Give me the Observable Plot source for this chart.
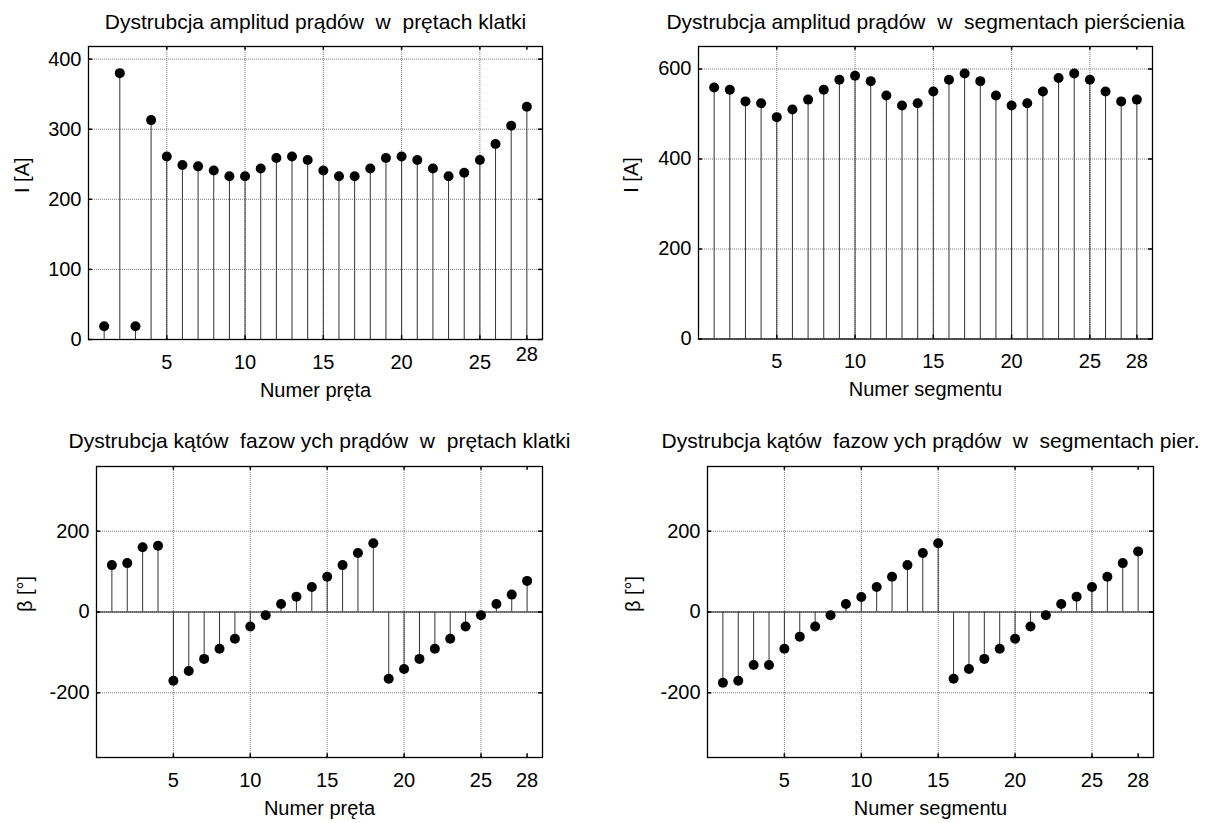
<!DOCTYPE html>
<html>
<head>
<meta charset="utf-8">
<script src="https://cdn.jsdelivr.net/npm/d3@7"></script>
<script src="https://cdn.jsdelivr.net/npm/@observablehq/plot@0.6"></script>
<style>
  body { margin: 0; background: #fff; }
  #wrap { position: relative; width: 1215px; height: 823px; background: #fff; overflow: hidden; }
  #wrap > svg { position: absolute; }
  svg text { white-space: pre; }
</style>
</head>
<body>
<div id="wrap"></div>
<script>
// ---- data ----
const numbers = [1,2,3,4,5,6,7,8,9,10,11,12,13,14,15,16,17,18,19,20,21,22,23,24,25,26,27,28];
const barAmplitude = [19,380,19,313,261,249,247,241,233,233,244,259,261,256,241,233,233,244,259,261,256,244,233,238,256,279,305,332];
const ringAmplitude = [559,554,528,524,493,510,532,554,576,585,573,541,519,524,550,576,590,573,541,519,524,550,580,590,576,550,528,532];
const barPhase = [116,121,160,164,-170,-146,-116,-91,-66,-36,-8,20,38,62,87,116,146,170,-165,-141,-116,-91,-66,-36,-8,20,43,77];
const ringPhase = [-175,-170,-131,-131,-91,-61,-36,-8,20,37,62,87,116,146,170,-165,-141,-116,-91,-66,-36,-8,20,38,62,87,121,150];

const xTicks = [5,10,15,20,25];
const xLastTick = [28];
const ampBarTicks = [0,100,200,300,400];
const ampRingTicks = [0,200,400,600];
const phaseTicks = [-200,0,200];

const titles = [
  "Dystrubcja amplitud prądów  w  prętach klatki",
  "Dystrubcja amplitud prądów  w  segmentach pierścienia",
  "Dystrubcja kątów  fazow ych prądów  w  prętach klatki",
  "Dystrubcja kątów  fazow ych prądów  w  segmentach pier."
];
const xLabels = ["Numer pręta", "Numer segmentu", "Numer pręta", "Numer segmentu"];
const yLabels = ["I [A]", "I [A]", "β [°]", "β [°]"];

const xDomain = [0, 29];
const plainFormat = d => String(d);

function panel(cfg) {
  const data = numbers.map((n, i) => ({n, v: cfg.values[i]}));
  const yD = cfg.yDomain;
  const xLen = (xDomain[1] - xDomain[0]) * 0.009;
  const yLen = (yD[1] - yD[0]) * 0.013;
  const gridStyle = {stroke: "#7a7a7a", strokeOpacity: 1, strokeWidth: 1, strokeDasharray: "1,1"};
  const innerX = xTicks.concat(xLastTick);
  const marks = [
    Plot.gridX(xTicks, gridStyle),
    Plot.gridY(cfg.yTicks, gridStyle),
  ];
  if (cfg.baseline) marks.push(Plot.ruleY([0], {stroke: "#111", strokeWidth: 1}));
  marks.push(
    Plot.ruleX(data, {x: "n", y1: 0, y2: "v", stroke: "#333", strokeWidth: 1}),
    Plot.dot(data, {x: "n", y: "v", r: 5, fill: "black", stroke: "none"}),
    // small inward ticks (MATLAB style)
    Plot.ruleX(innerX, {x: d => d, y1: yD[0], y2: yD[0] + yLen, stroke: "black", strokeWidth: 1.5}),
    Plot.ruleX(innerX, {x: d => d, y1: yD[1], y2: yD[1] - yLen, stroke: "black", strokeWidth: 1.5}),
    Plot.ruleY(cfg.yTicks, {y: d => d, x1: xDomain[0], x2: xDomain[0] + xLen, stroke: "black", strokeWidth: 1.5}),
    Plot.ruleY(cfg.yTicks, {y: d => d, x1: xDomain[1], x2: xDomain[1] - xLen, stroke: "black", strokeWidth: 1.5}),
    Plot.frame({stroke: "black", strokeWidth: 1.3}),
    Plot.axisX(xTicks, {tickSize: 0, tickPadding: 15, label: null, fontSize: 20, tickFormat: plainFormat}),
    Plot.axisX(xLastTick, {tickSize: 0, tickPadding: cfg.raised28 ? 7 : 15, label: null, fontSize: 20, tickFormat: plainFormat}),
    Plot.axisY(cfg.yTicks, {tickSize: 0, tickPadding: 7, label: null, fontSize: 20, tickFormat: plainFormat}),
    Plot.text([cfg.title], {text: d => d, frameAnchor: "top", dy: cfg.titleDy, lineAnchor: "bottom", fontSize: 21, fill: "black"}),
    Plot.text([cfg.xLabel], {text: d => d, frameAnchor: "bottom", dy: 51, lineAnchor: "middle", fontSize: 20, fill: "black"}),
    Plot.text([cfg.yLabel], {text: d => d, frameAnchor: "left", dx: cfg.yLabelDx, rotate: -90, lineAnchor: "middle", fontSize: 20, fill: "black"})
  );
  const svg = Plot.plot({
    width: cfg.width, height: cfg.height,
    marginLeft: cfg.mL, marginRight: cfg.mR, marginTop: cfg.mT, marginBottom: cfg.mB,
    style: {fontFamily: "'Liberation Sans', Arial, sans-serif", fontSize: "20px", background: "transparent", color: "black", overflow: "visible"},
    x: {domain: xDomain},
    y: {domain: yD},
    marks
  });
  svg.style.left = cfg.left + "px";
  svg.style.top = cfg.top + "px";
  document.getElementById("wrap").appendChild(svg);
}

panel({values: barAmplitude, yDomain: [0, 418], yTicks: ampBarTicks, title: titles[0], xLabel: xLabels[0], yLabel: yLabels[0],
  left: 0, top: 0, width: 600, height: 400, mL: 88, mR: 58, mT: 46, mB: 61, titleDy: -18, yLabelDx: -66, raised28: true});
panel({values: ringAmplitude, yDomain: [0, 650], yTicks: ampRingTicks, title: titles[1], xLabel: xLabels[1], yLabel: yLabels[1],
  left: 600, top: 0, width: 615, height: 400, mL: 98, mR: 63, mT: 46, mB: 61.5, titleDy: -18, yLabelDx: -67});
panel({values: barPhase, yDomain: [-360, 360], yTicks: phaseTicks, title: titles[2], xLabel: xLabels[2], yLabel: yLabels[2], baseline: true,
  left: 0, top: 400, width: 600, height: 423, mL: 96, mR: 58, mT: 66, mB: 66, titleDy: -19, yLabelDx: -71});
panel({values: ringPhase, yDomain: [-360, 360], yTicks: phaseTicks, title: titles[3], xLabel: xLabels[3], yLabel: yLabels[3], baseline: true,
  left: 600, top: 400, width: 615, height: 423, mL: 107, mR: 62, mT: 66, mB: 66, titleDy: -19, yLabelDx: -74});
</script>
</body>
</html>
